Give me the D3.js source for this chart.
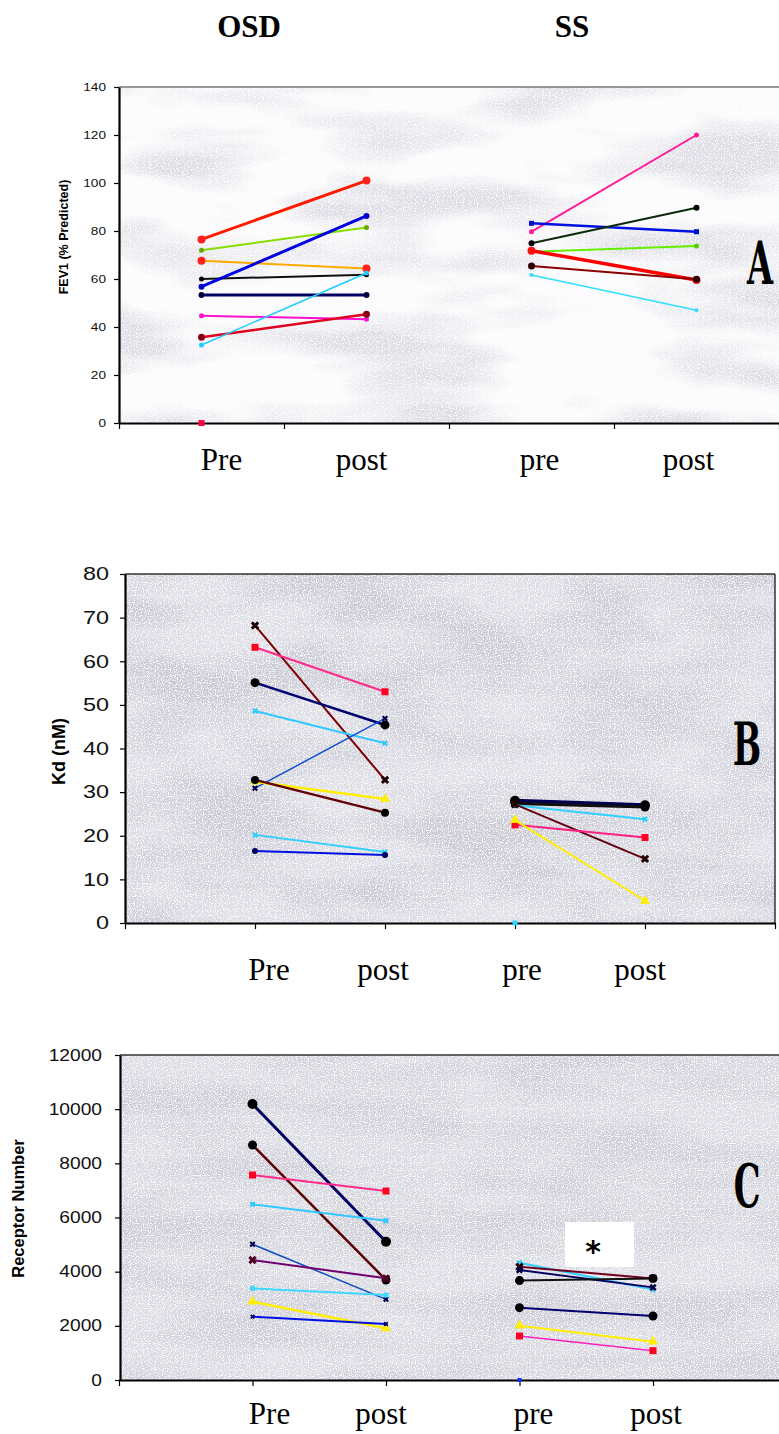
<!DOCTYPE html>
<html>
<head>
<meta charset="utf-8">
<script src="https://cdn.jsdelivr.net/npm/d3@7"></script>
<style>
  html, body { margin: 0; padding: 0; background: #fff; }
  svg { display: block; }
</style>
</head>
<body>
<svg id="fig" width="779" height="1434"></svg>
<script>
// ---- categories and tick labels ----
const groups = ["OSD", "SS"];
const phases = ["Pre", "post", "pre", "post"];
const fevTicks = [0, 20, 40, 60, 80, 100, 120, 140];
const kdTicks = [0, 10, 20, 30, 40, 50, 60, 70, 80];
const rnTicks = [0, 2000, 4000, 6000, 8000, 10000, 12000];

// ---- A: FEV1 (% predicted), one [pre, post] pair per subject ----
const fevOSD = [[76.5, 101], [72, 81.5], [67.6, 64.4], [60, 61.8], [56.8, 86.3],
                [53.3, 53.3], [44.7, 43.2], [35.7, 45.3], [32.5, 62.5], [0, null]];
const fevSS  = [[79.7, 120], [83.2, 79.7], [74.9, 89.7], [71.4, 73.8],
                [71.8, 59.6], [65.4, 59.9], [61.7, 47]];

// ---- B: Kd (nM) ----
const kdOSD = [[68.2, 32.8], [63.2, 53.0], [55.1, 45.4], [48.6, 41.2], [30.9, 46.9],
               [32.4, 28.4], [32.8, 25.3], [20.2, 16.3], [16.5, 15.6]];
const kdSS  = [[28.0, 27.0], [27.4, 26.6], [27.0, 23.8], [27.2, 14.7],
               [22.5, 19.6], [23.6, 5.1], [0, null]];

// ---- C: receptor number ----
const rnOSD = [[10190, 5107], [8677, 3692], [7569, 6978], [6487, 5882], [5010, 2979],
               [4430, 3754], [3385, 3138], [2892, 1908], [2338, 2068]];
const rnSS  = [[4330, 3340], [4180, 3750], [4060, 3420], [3670, 3750],
               [2670, 2363], [2005, 1415], [1625, 1082], [0, null]];

// ---- per-subject line styles: [line colour, width, marker, marker colour, marker size] ----
const fevOSDStyle = [
  ["#ff1a00", 3, "circle", "#ff2020", 4], ["#88dd00", 2, "dot", "#66aa00", 2.5],
  ["#ffaa00", 2, "circle", "#ff2020", 4], ["#101010", 2, "dot", "#000", 2.5],
  ["#0000e0", 3, "dot", "#0000cc", 3],     ["#000060", 3, "dot", "#000040", 3],
  ["#ff10d0", 2, "dot", "#ff10d0", 2.5],  ["#e00020", 2.5, "circle", "#8b0010", 3.5],
  ["#22ccff", 1.5, "dot", "#22ccff", 2.5], ["#ff0040", 0, "square", "#ff0040", 6]
];
const fevSSStyle = [
  ["#ff1a9a", 2, "dot", "#ff1a9a", 2.5], ["#0010e0", 2.5, "square", "#0010c0", 5],
  ["#0a2a0a", 2, "dot", "#000", 3],      ["#66ee00", 2, "dot", "#55cc00", 2.5],
  ["#ff0000", 3.5, "circle", "#ff1010", 4], ["#8b0000", 2, "circle", "#300000", 3.5],
  ["#33ddff", 1.5, "dot", "#33ddff", 2]
];
const kdOSDStyle = [
  ["#7a0000", 2, "x", "#1a0000", 7],   ["#ff2a8a", 2, "square", "#ff0020", 7],
  ["#000070", 2.5, "circle", "#000", 4.5], ["#30c8ff", 2, "x", "#30c8ff", 5],
  ["#1050d0", 1.5, "x", "#000050", 5], ["#ffee00", 2.5, "tri", "#ffee00", 7],
  ["#600000", 2.5, "circle", "#000", 4], ["#30d0ff", 2, "x", "#30d0ff", 5],
  ["#0010e0", 2, "dot", "#000060", 3]
];
const kdSSStyle = [
  ["#000050", 4, "circle", "#000", 5],   ["#101010", 3, "circle", "#000", 4.5],
  ["#30d0ff", 2, "x", "#30d0ff", 5],     ["#600010", 2, "x", "#200000", 7],
  ["#ff2080", 2, "square", "#ff0020", 7], ["#ffee00", 2, "tri", "#ffee00", 7],
  ["#30d0ff", 0, "square", "#30d0ff", 5]
];
const rnOSDStyle = [
  ["#000060", 3, "circle", "#000", 5],   ["#5a0000", 2.5, "circle", "#000", 4.5],
  ["#ff2a8a", 2, "square", "#ff0020", 7], ["#30c8ff", 2, "x", "#30c8ff", 5],
  ["#104cc0", 1.5, "x", "#000050", 5],   ["#700070", 2, "x", "#500020", 7],
  ["#40d8ff", 2, "square", "#40d8ff", 5], ["#ffee00", 2.5, "tri", "#ffee00", 7],
  ["#0010e0", 2, "x", "#000060", 4]
];
const rnSSStyle = [
  ["#30d0ff", 2, "x", "#30d0ff", 5],     ["#700020", 2, "x", "#200000", 7],
  ["#000060", 2, "x", "#000040", 6],     ["#101010", 2, "circle", "#000", 4.5],
  ["#000070", 2, "circle", "#000", 4.5], ["#ffee00", 2, "tri", "#ffee00", 7],
  ["#ff20c0", 1.5, "square", "#ff0020", 7], ["#1030ff", 0, "square", "#1030ff", 4]
];

const svg = d3.select("#fig");
const defs = svg.append("defs");

// mottled paper texture for the plot areas
function texture(id, blot, k, b, freq, seed) {
  const f = defs.append("filter").attr("id", id)
    .attr("x", 0).attr("y", 0).attr("width", 1).attr("height", 1)
    .attr("filterUnits", "objectBoundingBox");
  f.append("feTurbulence").attr("type", "fractalNoise")
    .attr("baseFrequency", freq).attr("numOctaves", 3).attr("seed", seed).attr("result", "n");
  f.append("feColorMatrix").attr("in", "n").attr("type", "matrix")
    .attr("values", `0 0 0 0 ${blot[0]}  0 0 0 0 ${blot[1]}  0 0 0 0 ${blot[2]}  ${k} 0 0 0 ${b}`)
    .attr("result", "blot");
  f.append("feTurbulence").attr("type", "fractalNoise")
    .attr("baseFrequency", 0.85).attr("numOctaves", 1).attr("seed", seed + 5).attr("result", "g");
  f.append("feColorMatrix").attr("in", "g").attr("type", "matrix")
    .attr("values", "0 0 0 0 1  0 0 0 0 1  0 0 0 0 1  5 0 0 0 -2.45")
    .attr("result", "grain");
  const m = f.append("feMerge");
  m.append("feMergeNode").attr("in", "SourceGraphic");
  m.append("feMergeNode").attr("in", "blot");
  m.append("feMergeNode").attr("in", "grain");
}
texture("texA", [0.72, 0.72, 0.78], 3.2, -1.35, "0.006 0.022", 4);
texture("texB", [0.60, 0.60, 0.67], 3.0, -1.05, "0.007 0.02", 9);
texture("texC", [0.62, 0.62, 0.69], 3.0, -1.05, "0.006 0.024", 13);

function marker(sel, type, size, fill) {
  if (type === "circle" || type === "dot") {
    sel.append("circle").attr("r", size).attr("fill", fill);
  } else if (type === "square") {
    sel.append("rect").attr("x", -size / 2).attr("y", -size / 2)
      .attr("width", size).attr("height", size).attr("fill", fill);
  } else if (type === "tri") {
    sel.append("path").attr("d", d3.symbol(d3.symbolTriangle, size * size * 0.9)()).attr("fill", fill);
  } else if (type === "x") {
    sel.append("path").attr("d", d3.symbol(d3.symbolCross, size * size * 0.9)())
      .attr("transform", "rotate(45)").attr("fill", fill);
  }
}

function drawPanel(cfg) {
  const g = svg.append("g");
  const y = d3.scaleLinear().domain([0, cfg.max]).range([cfg.bottom, cfg.top]);

  // plot area
  g.append("rect")
    .attr("x", cfg.left).attr("y", cfg.top)
    .attr("width", cfg.right - cfg.left).attr("height", cfg.bottom - cfg.top)
    .attr("fill", cfg.bg).attr("filter", `url(#${cfg.tex})`);
  g.append("line").attr("x1", cfg.left).attr("x2", cfg.right)
    .attr("y1", cfg.top).attr("y2", cfg.top)
    .attr("stroke", cfg.frame).attr("stroke-width", 1.5);
  if (cfg.rightFrame) {
    g.append("line").attr("x1", cfg.right).attr("x2", cfg.right)
      .attr("y1", cfg.top).attr("y2", cfg.bottom)
      .attr("stroke", cfg.frame).attr("stroke-width", 1.5);
  }

  // y axis
  const ya = g.append("g").attr("transform", `translate(${cfg.left},0)`)
    .call(d3.axisLeft(y).tickValues(cfg.ticks).tickSize(5).tickSizeOuter(0)
      .tickFormat(d3.format("d")));
  ya.select(".domain").attr("stroke", "#000").attr("stroke-width", 2.2);
  ya.selectAll(".tick line").attr("stroke", "#000").attr("stroke-width", 1.2);
  ya.selectAll(".tick text")
    .attr("font-family", "Arimo, 'Liberation Sans', Arial, sans-serif")
    .attr("font-size", cfg.tickFont).attr("fill", "#111")
    .attr("x", -cfg.tickGap / cfg.tickStretch)
    .attr("transform", `scale(${cfg.tickStretch},1)`);

  // x axis: tick marks only, category names set separately
  const xa = g.append("g").attr("transform", `translate(0,${cfg.bottom})`)
    .call(d3.axisBottom(cfg.xTick).tickValues(cfg.xTickValues).tickSize(6).tickSizeOuter(0).tickFormat(""));
  xa.select(".domain").attr("stroke", "#000").attr("stroke-width", 2.2);
  xa.selectAll(".tick line").attr("stroke", "#000").attr("stroke-width", 1.2);

  // y title
  g.append("text")
    .attr("transform", `translate(${cfg.yTitleX},${(cfg.top + cfg.bottom) / 2 + cfg.yTitleDy}) rotate(-90)`)
    .attr("text-anchor", "middle").attr("dominant-baseline", "central")
    .attr("font-family", "Arimo, 'Liberation Sans', Arial, sans-serif")
    .attr("font-weight", "bold").attr("font-size", cfg.yTitleFont)
    .text(cfg.yTitle);

  // category labels
  g.selectAll("text.cat").data(phases).join("text").attr("class", "cat")
    .attr("x", (d, i) => cfg.px(i) + cfg.labelDx[i])
    .attr("y", cfg.labelY)
    .attr("text-anchor", "middle")
    .attr("font-family", "'Liberation Serif', 'Times New Roman', serif")
    .attr("font-size", 31).attr("fill", "#000")
    .text(d => d);

  // subject lines: one group per cohort
  [[cfg.osd, cfg.osdStyle, 0], [cfg.ss, cfg.ssStyle, 2]].forEach(([rows, styles, c0]) => {
    rows.forEach((pair, i) => {
      const s = styles[i];
      const pts = pair.map((v, j) => ({ x: cfg.px(c0 + j), v }))
        .filter(p => p.v !== null);
      if (pts.length === 2 && s[1] > 0) {
        g.append("path")
          .attr("d", d3.line().x(p => p.x).y(p => y(p.v))(pts))
          .attr("fill", "none").attr("stroke", s[0]).attr("stroke-width", s[1]);
      }
      pts.forEach(p => {
        const m = g.append("g").attr("transform", `translate(${p.x},${y(p.v)})`);
        marker(m, s[2], s[4], s[3]);
      });
    });
  });

  // panel letter
  g.append("text")
    .attr("transform", `translate(${cfg.letterX},${cfg.letterY}) scale(0.56,1)`)
    .attr("text-anchor", "middle")
    .attr("font-family", "'DejaVu Serif', serif").attr("font-weight", "bold")
    .attr("font-size", 60).attr("fill", "#000")
    .text(cfg.letter);
  return { g, y };
}

// ---- panel A ----
const xA = d3.scaleBand().domain(d3.range(phases.length)).range([119, 779]);
drawPanel({
  left: 119, right: 779, top: 87, bottom: 423, max: 140,
  ticks: fevTicks, tickFont: 10.5, tickStretch: 1.3, tickGap: 13,
  bg: "#fbfbfd", tex: "texA", frame: "#777", rightFrame: false,
  xTick: d3.scaleLinear().domain([0, 4]).range([119, 779]), xTickValues: [0, 1, 2, 3, 4],
  px: i => xA(i) + xA.bandwidth() / 2,
  labelDx: [20, -5, 8, -8], labelY: 470,
  yTitle: "FEV1 (% Predicted)", yTitleFont: 12.5, yTitleX: 64, yTitleDy: -18,
  osd: fevOSD, ss: fevSS, osdStyle: fevOSDStyle, ssStyle: fevSSStyle,
  letter: "A", letterX: 760, letterY: 284
});

// ---- panel B ----
const xB = d3.scaleLinear().domain([0, 5]).range([125, 775]);
drawPanel({
  left: 125, right: 775, top: 574, bottom: 923, max: 80,
  ticks: kdTicks, tickFont: 18, tickStretch: 1.3, tickGap: 16,
  bg: "#dedee6", tex: "texB", frame: "#333", rightFrame: true,
  xTick: xB, xTickValues: [0, 1, 2, 3, 4, 5],
  px: i => xB(i + 1),
  labelDx: [14, -2, 7, -5], labelY: 980,
  yTitle: "Kd (nM)", yTitleFont: 18, yTitleX: 59, yTitleDy: 3,
  osd: kdOSD, ss: kdSS, osdStyle: kdOSDStyle, ssStyle: kdSSStyle,
  letter: "B", letterX: 747, letterY: 765
});

// ---- panel C ----
const xC = d3.scaleLinear().domain([0, 5]).range([119, 786.5]);
drawPanel({
  left: 120, right: 779, top: 1055, bottom: 1380, max: 12000,
  ticks: rnTicks, tickFont: 16, tickStretch: 1.2, tickGap: 18,
  bg: "#dcdce4", tex: "texC", frame: "#333", rightFrame: false,
  xTick: xC, xTickValues: [0, 1, 2, 3, 4],
  px: i => xC(i + 1),
  labelDx: [17, -5, 14, 3], labelY: 1424,
  yTitle: "Receptor Number", yTitleFont: 16.5, yTitleX: 18, yTitleDy: -9,
  osd: rnOSD, ss: rnSS, osdStyle: rnOSDStyle, ssStyle: rnSSStyle,
  letter: "C", letterX: 747, letterY: 1207
});

// significance note in panel C
svg.append("rect").attr("x", 565).attr("y", 1222).attr("width", 69).attr("height", 45).attr("fill", "#fff");
svg.append("text").attr("x", 593).attr("y", 1262).attr("text-anchor", "middle")
  .attr("font-family", "'DejaVu Sans', sans-serif").attr("font-weight", "bold")
  .attr("font-size", 30).text("*");

// cohort titles
svg.selectAll("text.group").data(groups).join("text").attr("class", "group")
  .attr("x", (d, i) => [249, 572][i]).attr("y", 37)
  .attr("text-anchor", "middle")
  .attr("font-family", "'Liberation Serif', 'Times New Roman', serif")
  .attr("font-weight", "bold").attr("font-size", 31)
  .text(d => d);
</script>
</body>
</html>
